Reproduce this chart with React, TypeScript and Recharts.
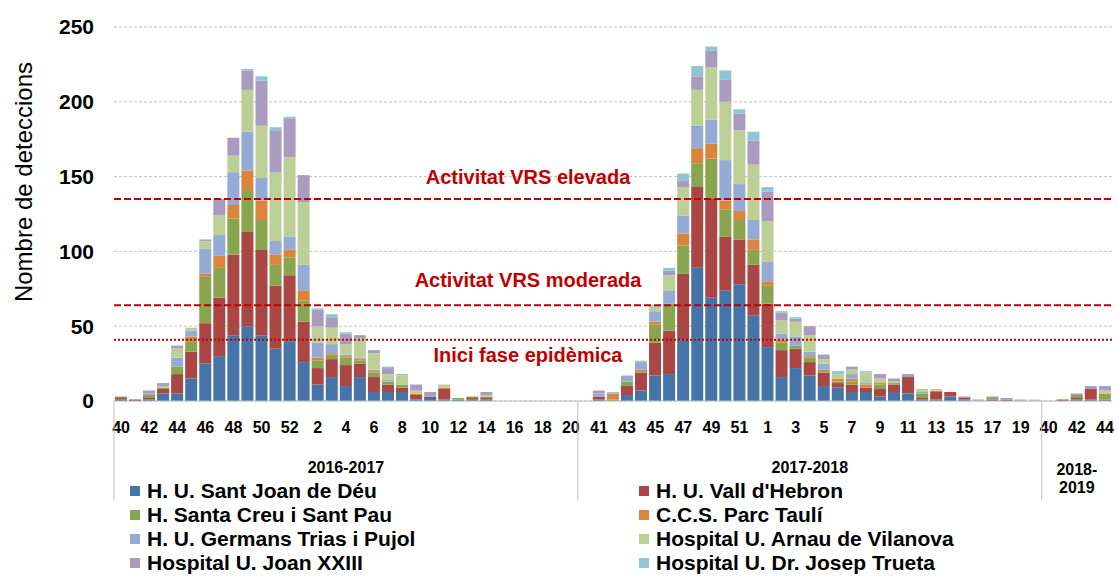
import {
  BarChart,
  Bar,
  XAxis,
  YAxis,
  CartesianGrid,
  ReferenceLine,
} from "recharts";

const FONT = "'Liberation Sans', Arial, sans-serif";
const RED = "#C00000";

// week numbers of each season
const weeks1617 = [40, 41, 42, 43, 44, 45, 46, 47, 48, 49, 50, 51, 52, 1, 2, 3, 4, 5, 6, 7, 8, 9, 10, 11, 12, 13, 14, 15, 16, 17, 18, 19, 20];
const weeks1718 = [40, 41, 42, 43, 44, 45, 46, 47, 48, 49, 50, 51, 52, 1, 2, 3, 4, 5, 6, 7, 8, 9, 10, 11, 12, 13, 14, 15, 16, 17, 18, 19, 20];
const weeks1819 = [40, 41, 42, 43, 44];

const seasons = ["2016-2017", "2017-2018", "2018-2019"];
const weeks = [...weeks1617, ...weeks1718, ...weeks1819];
const seasonOf = [
  ...weeks1617.map(() => 0),
  ...weeks1718.map(() => 1),
  ...weeks1819.map(() => 2),
];

// detections per hospital (2016-17 | 2017-18 | 2018-19)
const santJoanDeDeu = [
  1, 0, 1, 5, 5, 15, 25, 30, 44, 50, 44, 35, 40, 26, 11, 16, 10, 16, 6, 6, 6, 1, 2, 1, 1, 1, 1, 0, 0, 0, 0, 0, 0,
  0, 1, 0, 4, 7, 17, 18, 41, 89, 69, 74, 78, 57, 36, 16, 22, 17, 10, 9, 6, 6, 3, 6, 5, 1, 1, 3, 1, 0, 0, 0, 0, 0,
  0, 0, 1, 1, 1,
];
const vallHebron = [
  1, 1, 1, 3, 13, 18, 27, 39, 54, 63, 57, 42, 44, 27, 11, 12, 14, 9, 10, 5, 3, 3, 1, 7, 0, 1, 1, 0, 0, 0, 0, 0, 0,
  0, 2, 0, 6, 12, 22, 29, 44, 54, 66, 36, 30, 34, 29, 18, 13, 9, 9, 3, 5, 3, 5, 5, 11, 1, 5, 3, 1, 0, 1, 1, 0, 0,
  0, 1, 1, 7, 0,
];
const santPau = [
  1, 0, 2, 1, 5, 7, 31, 20, 24, 28, 20, 14, 12, 14, 5, 3, 5, 2, 3, 2, 2, 0, 0, 0, 1, 1, 1, 0, 0, 0, 0, 0, 0,
  0, 0, 1, 3, 1, 12, 18, 19, 16, 27, 18, 13, 10, 12, 5, 2, 3, 1, 1, 2, 0, 3, 1, 0, 3, 0, 0, 0, 0, 1, 0, 0, 0,
  0, 0, 2, 0, 3,
];
const parcTauli = [
  0, 0, 0, 0, 0, 3, 2, 8, 9, 13, 13, 7, 5, 7, 2, 1, 1, 1, 1, 0, 0, 1, 0, 1, 0, 0, 0, 0, 0, 0, 0, 0, 0,
  0, 0, 4, 0, 1, 2, 0, 8, 10, 10, 6, 6, 7, 3, 2, 0, 1, 1, 2, 2, 2, 1, 0, 0, 0, 1, 0, 0, 0, 0, 0, 0, 0,
  0, 0, 0, 0, 1,
];
const germansTrias = [
  0, 0, 1, 0, 6, 4, 17, 14, 22, 26, 15, 9, 9, 17, 10, 6, 1, 1, 1, 1, 0, 0, 1, 0, 0, 0, 0, 0, 0, 0, 0, 0, 0,
  0, 2, 0, 4, 5, 7, 9, 12, 15, 16, 27, 18, 13, 13, 4, 6, 3, 4, 0, 3, 1, 0, 0, 0, 1, 0, 0, 0, 1, 0, 0, 1, 0,
  0, 0, 0, 0, 0,
];
const arnauVilanova = [
  0, 0, 0, 1, 6, 2, 5, 13, 11, 28, 35, 46, 53, 42, 11, 11, 7, 13, 11, 4, 6, 2, 0, 2, 0, 0, 1, 0, 0, 0, 0, 0, 0,
  0, 0, 0, 0, 1, 3, 10, 19, 24, 35, 39, 36, 37, 27, 9, 10, 11, 3, 3, 3, 7, 3, 1, 0, 2, 1, 0, 0, 0, 0, 0, 0, 1,
  0, 0, 0, 0, 2,
];
const joanXXIII = [
  0, 0, 2, 2, 2, 0, 1, 11, 12, 13, 30, 28, 26, 18, 11, 7, 7, 2, 2, 4, 0, 4, 2, 0, 0, 0, 2, 0, 0, 0, 0, 0, 0,
  0, 2, 0, 0, 0, 0, 3, 4, 9, 11, 15, 11, 16, 20, 5, 2, 6, 3, 0, 2, 0, 3, 2, 2, 0, 0, 0, 1, 0, 1, 1, 0, 0,
  0, 0, 1, 2, 3,
];
const josepTrueta = [
  0, 0, 0, 0, 0, 0, 0, 0, 0, 1, 3, 2, 1, 0, 1, 2, 1, 0, 0, 1, 1, 0, 0, 0, 0, 0, 0, 0, 0, 0, 0, 0, 0,
  0, 0, 1, 0, 0, 1, 2, 5, 7, 3, 6, 3, 6, 3, 1, 1, 0, 0, 2, 0, 1, 0, 0, 0, 0, 0, 0, 0, 0, 0, 0, 0, 0,
  0, 0, 0, 0, 0,
];

const yTicks = [0, 50, 100, 150, 200, 250];

const series = [
  { key: "sjd", name: "H. U. Sant Joan de Déu", color: "#4674A8", values: santJoanDeDeu },
  { key: "vh", name: "H. U. Vall d'Hebron", color: "#AA4643", values: vallHebron },
  { key: "scsp", name: "H. Santa Creu i Sant Pau", color: "#8AA54F", values: santPau },
  { key: "pt", name: "C.C.S. Parc Taulí", color: "#DB843D", values: parcTauli },
  { key: "gtp", name: "H. U. Germans Trias i Pujol", color: "#95ABD3", values: germansTrias },
  { key: "av", name: "Hospital U. Arnau de Vilanova", color: "#BCCF97", values: arnauVilanova },
  { key: "j23", name: "Hospital U. Joan XXIII", color: "#AA9CBE", values: joanXXIII },
  { key: "jt", name: "Hospital U. Dr. Josep Trueta", color: "#93C4D6", values: josepTrueta },
];

const data = weeks.map((w, i) => {
  const row: any = { key: String(i), week: w };
  series.forEach((s) => (row[s.key] = s.values[i]));
  return row;
});

const WeekTick = (props: any) => {
  const { x, y, payload } = props;
  const i = Number(payload.value);
  return (
    <text x={x} y={y + 32} textAnchor="middle" fontSize={16} fontWeight="bold" fill="#000" fontFamily={FONT}>
      {weeks[i]}
    </text>
  );
};

const SeasonTick = (props: any) => {
  const { x, y, payload } = props;
  const i = Number(payload.value);
  const band = (props.width || 998) / weeks.length;
  const s = seasonOf[i];
  const first = seasonOf.indexOf(s);
  const last = seasonOf.lastIndexOf(s);
  const mid = Math.floor((first + last) / 2);
  const parts = [];
  if (i === first) {
    parts.push(
      <line key="l" x1={x - band / 2} x2={x - band / 2} y1={y - 50} y2={y + 49} stroke="#bfbfbf" strokeWidth={1} />
    );
  }
  if (i === mid) {
    const txt = seasons[s];
    if (s === 2) {
      parts.push(
        <text key="t" x={x} textAnchor="middle" fontSize={16} fontWeight="bold" fill="#000" fontFamily={FONT}>
          <tspan x={x} y={y + 24}>2018-</tspan>
          <tspan x={x} y={y + 42}>2019</tspan>
        </text>
      );
    } else {
      parts.push(
        <text key="t" x={x} y={y + 22} textAnchor="middle" fontSize={16} fontWeight="bold" fill="#000" fontFamily={FONT}>
          {txt}
        </text>
      );
    }
  }
  return <g>{parts}</g>;
};

const lineLabel = (text: string, dy: number) => (p: any) => {
  const vb = p.viewBox || {};
  return (
    <text x={vb.x + 414} y={vb.y + dy} textAnchor="middle" fontSize={20} fontWeight="bold" fill={RED} fontFamily={FONT}>
      {text}
    </text>
  );
};

export default function App() {
  return (
    <div style={{ position: "fixed", left: 0, top: 0, width: 1118, height: 578, overflow: "hidden", background: "#fff" }}>
      <BarChart
        width={1118}
        height={578}
        data={data}
        margin={{ top: 27, right: 6, bottom: 0, left: 0 }}
        barCategoryGap="6.5%"
        style={{ fontFamily: FONT }}
      >
        <CartesianGrid vertical={false} stroke="#c4c4c4" strokeDasharray="3 2" />
        <XAxis
          dataKey="key"
          height={50}
          interval={1}
          tick={<WeekTick />}
          tickLine={false}
          tickSize={0}
          tickMargin={0}
          axisLine={{ stroke: "#bfbfbf" }}
        />
        <XAxis
          xAxisId="season"
          dataKey="key"
          height={127}
          interval={0}
          tick={<SeasonTick />}
          tickLine={false}
          tickSize={0}
          tickMargin={0}
          axisLine={false}
        />
        <YAxis
          width={114}
          domain={[0, 250]}
          ticks={yTicks}
          interval={0}
          tickLine={false}
          axisLine={false}
          tickSize={0}
          tickMargin={20}
          tick={{ fontSize: 21, fontWeight: "bold", fill: "#000", fontFamily: FONT }}
          label={{
            content: () => (
              <text
                x={31.5}
                y={182}
                transform="rotate(-90, 31.5, 182)"
                textAnchor="middle"
                fontSize={24}
                fill="#000"
                fontFamily={FONT}
              >
                Nombre de deteccions
              </text>
            ),
          }}
        />
        {series.map((s) => (
          <Bar key={s.key} dataKey={s.key} name={s.name} stackId="a" fill={s.color} isAnimationActive={false} />
        ))}
        <ReferenceLine y={135} stroke={RED} strokeWidth={2} strokeDasharray="7 3" label={{ content: lineLabel("Activitat VRS elevada", -15) }} />
        <ReferenceLine y={64} stroke={RED} strokeWidth={2} strokeDasharray="7 3" label={{ content: lineLabel("Activitat VRS moderada", -18) }} />
        <ReferenceLine y={41} stroke={RED} strokeWidth={2} strokeDasharray="2 2" label={{ content: lineLabel("Inici fase epidèmica", 22) }} />
      </BarChart>
      {series.map((s, i) => (
        <div
          key={s.key}
          style={{
            position: "absolute",
            left: i % 2 === 0 ? 130 : 639,
            top: 480 + Math.floor(i / 2) * 24,
            height: 22,
            display: "flex",
            alignItems: "center",
            fontFamily: FONT,
            fontSize: 21,
            fontWeight: "bold",
            color: "#000",
            whiteSpace: "nowrap",
          }}
        >
          <span style={{ width: 10, height: 10, background: s.color, marginRight: 7, display: "inline-block" }} />
          {s.name}
        </div>
      ))}
    </div>
  );
}
